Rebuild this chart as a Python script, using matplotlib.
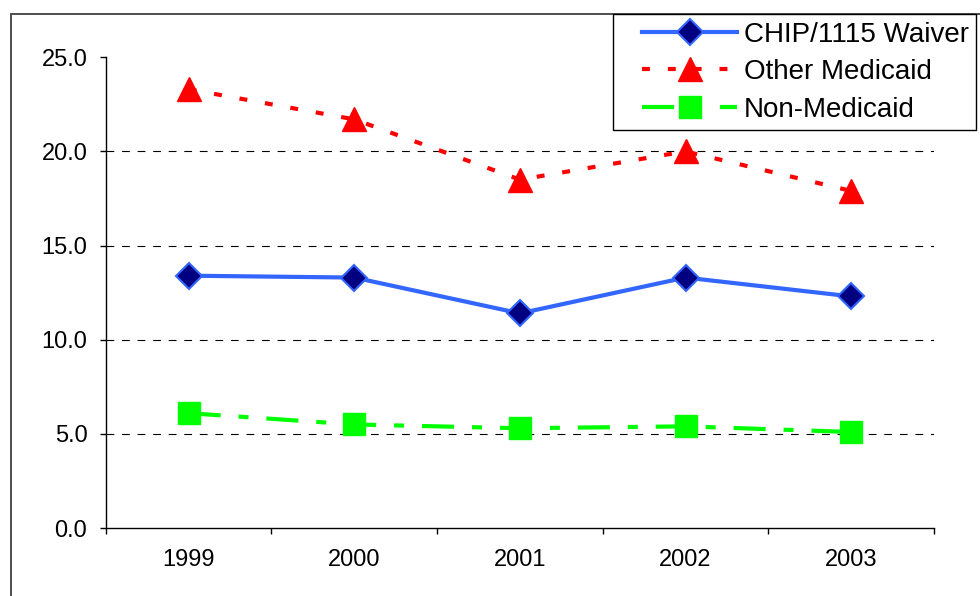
import matplotlib.pyplot as plt
from matplotlib.patches import Rectangle
from matplotlib.legend_handler import HandlerLine2D

plt.rcParams['font.family'] = ['Liberation Sans', 'DejaVu Sans']

years = ['1999', '2000', '2001', '2002', '2003']
chip_waiver = [13.4, 13.3, 11.4, 13.3, 12.3]
other_medicaid = [23.3, 21.7, 18.5, 20.0, 17.9]
non_medicaid = [6.1, 5.5, 5.3, 5.4, 5.1]
grid_levels = [5, 10, 15, 20]

fig = plt.figure(figsize=(9.8, 5.96), dpi=100)
ax = fig.add_axes([0.108, 0.114, 0.845, 0.790])

x = range(len(years))
ax.plot(x, chip_waiver, color='#3366ff', lw=3, marker='D', markersize=13,
        markerfacecolor='#000080', markeredgecolor='#3366ff', markeredgewidth=1.5,
        label='CHIP/1115 Waiver', zorder=4)
ax.plot(x, other_medicaid, color='#ff0000', lw=3, linestyle=(0, (1.9, 4.3)),
        marker='^', markersize=17, markerfacecolor='#ff0000', markeredgecolor='#ff0000',
        label='Other Medicaid', zorder=4)
ax.plot(x, non_medicaid, color='#00ff00', lw=3, linestyle=(0, (7.7, 4.3, 2.4, 4.3)),
        marker='s', markersize=15.5, markerfacecolor='#00ff00', markeredgecolor='#00ff00',
        label='Non-Medicaid', zorder=4)

for g in grid_levels:
    ax.axhline(g, color='black', lw=0.8, linestyle=(0, (7, 7)), zorder=1)

ax.set_xlim(-0.5, len(years) - 0.5)
ax.set_ylim(0, 25)
ax.set_yticks([0, 5, 10, 15, 20, 25])
ax.set_yticklabels([f'{v:.1f}' for v in [0, 5, 10, 15, 20, 25]])

# ticks sit between categories, labels at category centres
ax.set_xticks([i - 0.5 for i in range(len(years) + 1)])
ax.set_xticklabels([])
ax.set_xticks(list(x), minor=True)
ax.set_xticklabels(years, minor=True)
ax.tick_params(axis='x', which='minor', length=0, pad=15, labelsize=17)
ax.tick_params(axis='x', which='major', length=4.3, width=1, direction='out')
ax.tick_params(axis='y', length=4.3, width=1, pad=9, labelsize=17, direction='out')

for side in ['top', 'right']:
    ax.spines[side].set_visible(False)
for side in ['left', 'bottom']:
    ax.spines[side].set_linewidth(1.0)

# outer frame around the chart
fig.patches.append(Rectangle((10.5 / 980, -0.1), 1.2, 1 - 14 / 596 + 0.1,
                             transform=fig.transFigure, fill=False,
                             edgecolor='#404040', lw=1.3))

handler = HandlerLine2D(numpoints=1, xpad=0.75)
leg = fig.legend(loc='upper left', bbox_to_anchor=(613 / 980, 1 - 14 / 596),
                 bbox_transform=fig.transFigure, borderaxespad=0, fontsize=20,
                 handlelength=4.2, handletextpad=0.22, labelspacing=0.41,
                 borderpad=0.28, fancybox=False, framealpha=1,
                 handler_map={plt.Line2D: handler})
leg.get_frame().set_edgecolor('black')
leg.get_frame().set_linewidth(1.0)

fig.savefig('out.png', dpi=100)
